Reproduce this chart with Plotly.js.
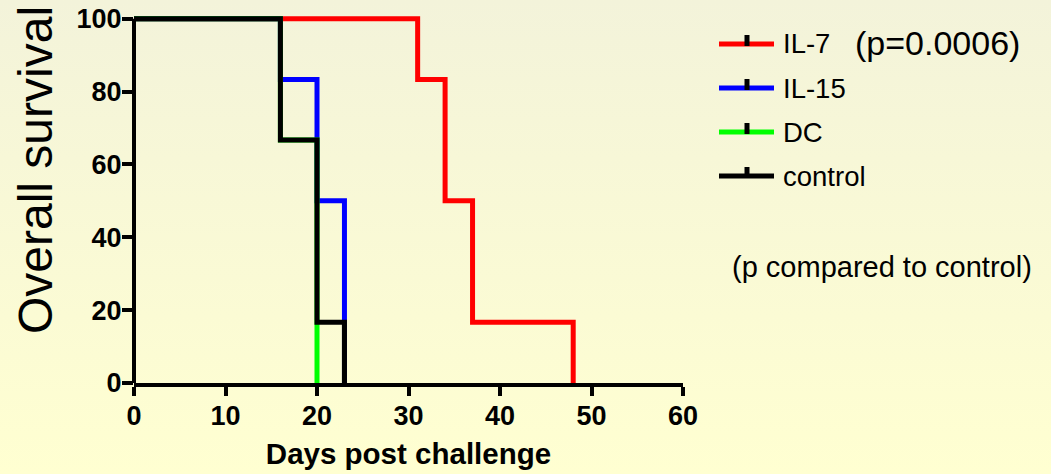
<!DOCTYPE html>
<html><head><meta charset="utf-8">
<script src="https://cdn.plot.ly/plotly-3.0.1.min.js"></script>
<style>
html,body{margin:0;padding:0;width:1051px;height:474px;overflow:hidden;background:linear-gradient(to bottom,#f3f3da,#ffffd1);}
#chart{width:1051px;height:474px;}
</style>
</head><body><div id="chart"></div>
<script>
const seriesNames = ['IL-7', 'IL-15', 'DC', 'control'];
const seriesColors = ['#ff0000', '#0000ff', '#00ff00', '#000000'];
const il7Days = [0, 31, 34, 37, 48];
const il7Surv = [100, 83.33, 50, 16.67, 0];
const il15Days = [0, 16, 20, 23];
const il15Surv = [100, 83.33, 50, 0];
const dcDays = [0, 16, 20];
const dcSurv = [100, 66.67, 0];
const controlDays = [0, 16, 20, 23];
const controlSurv = [100, 66.67, 16.67, 0];
const xTicks = [0, 10, 20, 30, 40, 50, 60];
const yTicks = [0, 20, 40, 60, 80, 100];
const xTitle = 'Days post challenge';
const yTitle = 'Overall survival';
const pValueText = '(p=0.0006)';
const noteText = '(p compared to control)';

const W = 1051, H = 474;
const M = {l: 134, r: 368, t: 15, b: 91};
const PW = W - M.l - M.r, PH = H - M.t - M.b;
const px = v => (v - M.l) / PW;   // pixel -> paper x
const py = v => (H - M.b - v) / PH; // pixel -> paper y
const FONT = 'Arial, Liberation Sans, sans-serif';

const allDays = [il7Days, il15Days, dcDays, controlDays];
const allSurv = [il7Surv, il15Surv, dcSurv, controlSurv];

const traces = seriesNames.map((n, i) => ({
  type: 'scatter', mode: 'lines', name: n,
  x: allDays[i], y: allSurv[i],
  line: {shape: 'hv', color: seriesColors[i], width: 5},
  showlegend: false, hoverinfo: 'skip'
}));

const shapes = [
  {type: 'line', xref: 'paper', yref: 'y', x0: 0, x1: 0, y0: 0, y1: 100,
   line: {color: '#000', width: 4}}
];
const annotations = [
  {text: yTitle, xref: 'paper', yref: 'paper', x: px(35), y: py(170),
   xanchor: 'center', yanchor: 'middle', textangle: -90, showarrow: false,
   font: {family: FONT, size: 48, color: '#000'}}
];
const legY0 = 44, legStep = 44;
seriesNames.forEach((n, i) => {
  const yy = legY0 + i * legStep;
  shapes.push({type: 'line', xref: 'paper', yref: 'paper',
    x0: px(719), x1: px(774), y0: py(yy), y1: py(yy),
    line: {color: seriesColors[i], width: 5}});
  shapes.push({type: 'line', xref: 'paper', yref: 'paper',
    x0: px(747), x1: px(747), y0: py(yy + 2), y1: py(yy - 9),
    line: {color: '#000', width: 5}});
  annotations.push({text: n, xref: 'paper', yref: 'paper',
    x: px(781), y: py(yy), xanchor: 'left', yanchor: 'middle', showarrow: false,
    font: {family: FONT, size: 27.5, color: '#000'}});
});
annotations.push({text: pValueText, xref: 'paper', yref: 'paper',
  x: px(853), y: py(legY0 - 1), xanchor: 'left', yanchor: 'middle', showarrow: false,
  font: {family: FONT, size: 34, color: '#000'}});
annotations.push({text: noteText, xref: 'paper', yref: 'paper',
  x: px(882), y: py(267), xanchor: 'center', yanchor: 'middle', showarrow: false,
  font: {family: FONT, size: 29, color: '#000'}});

const tickFont = {family: FONT, size: 27, color: '#000', weight: 'bold'};
const layout = {
  width: W, height: H, margin: M,
  paper_bgcolor: 'rgba(0,0,0,0)', plot_bgcolor: 'rgba(0,0,0,0)',
  showlegend: false,
  xaxis: {range: [0, 60], tickvals: xTicks, ticktext: xTicks.map(String),
    ticks: 'outside', ticklen: 9, tickwidth: 4, tickcolor: '#000',
    showline: true, linewidth: 4, linecolor: '#000', ticklabelstandoff: -3,
    showgrid: false, zeroline: false, tickfont: tickFont, fixedrange: true,
    title: {text: xTitle, standoff: 14,
      font: {family: FONT, size: 29.5, color: '#000', weight: 'bold'}}},
  yaxis: {range: [0, 101], tickvals: yTicks, ticktext: yTicks.map(String),
    ticks: 'outside', ticklen: 11, tickwidth: 4, tickcolor: '#000', ticklabelstandoff: -5,
    showline: false, showgrid: false, zeroline: false, tickfont: tickFont, fixedrange: true},
  shapes: shapes, annotations: annotations
};
Plotly.newPlot('chart', traces, layout, {displayModeBar: false, staticPlot: true});
</script></body></html>
